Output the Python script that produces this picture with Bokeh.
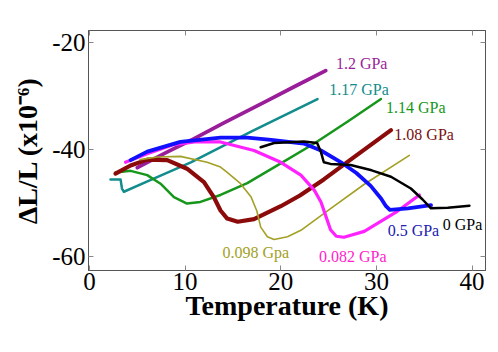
from bokeh.plotting import figure
from bokeh.models import Range1d, LinearAxis, FixedTicker
from bokeh.embed import file_html
from bokeh.resources import INLINE
from bokeh.core.properties import value

# ---- data ----
t_12 = [5.0, 8.1, 10.6, 14.0, 18.6, 21.5, 24.7]
y_12 = [-43.4, -40.5, -38.3, -35.1, -30.9, -28.2, -25.3]

t_117 = [2.2, 3.25, 3.4, 3.6, 6.0, 10.6, 17.0, 23.84]
y_117 = [-45.6, -45.6, -47.3, -47.9, -46.0, -42.4, -36.6, -30.6]

t_114 = [2.72, 4.3, 6.04, 7.43, 8.83, 10.2, 11.6, 13.7, 16.5, 20.0, 23.5, 27.0, 30.47]
y_114 = [-44.3, -44.0, -44.8, -46.4, -48.9, -50.1, -49.8, -48.5, -46.3, -42.6, -38.9, -34.8, -30.6]

t_108 = [2.72, 4.3, 6.04, 8.13, 10.2, 11.97, 13.0, 13.7, 14.4, 15.5, 17.2, 20.0, 22.0, 24.5, 27.3, 31.52]
y_108 = [-44.5, -43.0, -41.9, -42.0, -43.6, -46.1, -48.9, -51.4, -52.9, -53.5, -53.0, -50.6, -48.6, -45.6, -41.9, -36.4]

t_098 = [5.3, 7.1, 9.5, 12.3, 13.7, 14.4, 15.8, 16.9, 17.5, 17.9, 18.6, 19.3, 20.7, 22.1, 25.24, 28.73, 33.44]
y_098 = [-41.9, -41.4, -41.3, -42.4, -43.3, -44.3, -46.4, -48.9, -51.5, -54.5, -56.3, -56.8, -56.3, -55.1, -51.0, -46.5, -41.1]

t_082 = [3.77, 6.04, 8.83, 11.0, 13.7, 17.2, 20.0, 22.1, 23.5, 24.2, 24.7, 25.2, 25.8, 26.6, 28.73, 32.22, 34.49]
y_082 = [-42.4, -40.8, -39.1, -38.6, -38.6, -40.2, -42.4, -44.8, -47.6, -49.8, -52.4, -55.0, -56.2, -56.4, -55.3, -51.5, -48.5]

t_05 = [4.3, 6.04, 9.5, 13.7, 16.5, 19.0, 22.4, 24.2, 26.3, 27.9, 29.4, 30.5, 31.0, 31.4, 33.3, 35.71]
y_05 = [-42.0, -40.4, -38.6, -37.8, -37.8, -38.2, -38.9, -40.2, -42.4, -44.4, -46.8, -49.2, -50.6, -51.3, -51.0, -50.4]

t_0 = [17.9, 19.3, 22.4, 23.8, 24.2, 24.5, 25.2, 27.3, 29.5, 31.52, 33.6, 34.8, 35.7, 37.45, 39.72]
y_0 = [-39.6, -38.8, -38.5, -38.8, -40.5, -42.4, -42.7, -42.9, -43.9, -45.1, -47.3, -49.3, -51.0, -50.9, -50.5]

labels = ["1.2 GPa", "1.17 GPa", "1.14 GPa", "1.08 GPa", "0.098 Gpa", "0.082 GPa", "0.5 GPa", "0 GPa"]
label_t = [25.76, 25.06, 31.0, 31.87, 13.9, 24.0, 31.17, 36.93]
label_y = [-24.0, -28.8, -32.1, -37.2, -59.2, -59.9, -55.2, -54.0]

x_ticks = [0, 10, 20, 30, 40]
y_ticks = [-60, -40, -20]

series = [
    (t_12, y_12, "#9a1e9a", 3.8),
    (t_117, y_117, "#128c8c", 2.5),
    (t_114, y_114, "#16961a", 2.5),
    (t_108, y_108, "#8b0a0a", 4.2),
    (t_098, y_098, "#a3a025", 1.6),
    (t_082, y_082, "#ff22ff", 3.2),
    (t_05, y_05, "#1010ff", 3.8),
    (t_0, y_0, "#000000", 2.5),
]
label_colors = ["#9a1e9a", "#128c8c", "#16961a", "#7a1010", "#a3a025", "#ff22cc", "#2020b0", "#000000"]

SERIF = "'Liberation Serif', 'Times New Roman', serif"

p = figure(width=490, height=344, output_backend="svg", toolbar_location=None,
           x_range=Range1d(-0.1, 41.4), y_range=Range1d(-62.6, -17.8),
           min_border_left=88, min_border_right=5, min_border_top=30, min_border_bottom=74)
p.background_fill_color = "white"
p.border_fill_color = "white"
p.outline_line_color = "#555555"
p.outline_line_width = 1
p.grid.visible = False

for t, y, c, w in series:
    p.line(t, y, line_color=c, line_width=w, line_join="round", line_cap="round")

p.text(x=label_t, y=label_y, text=labels, text_color=label_colors,
       text_font=value("Liberation Serif"), text_font_size="16px", text_baseline="middle", text_align="left")

bottom = p.below[0]
left = p.left[0]
top = LinearAxis(ticker=FixedTicker(ticks=x_ticks))
right = LinearAxis(ticker=FixedTicker(ticks=y_ticks))
p.add_layout(top, "above")
p.add_layout(right, "right")

for ax in (bottom, left, top, right):
    ax.major_tick_in = 5
    ax.major_tick_out = 0
    ax.minor_tick_line_color = None
    ax.axis_line_color = "#555555"
    ax.major_tick_line_color = "#888888"
    ax.major_label_text_font = SERIF
    ax.major_label_text_font_size = "25px"
    ax.major_label_text_color = "black"
    ax.axis_label_text_font = "Liberation Serif"
    ax.axis_label_text_font_style = "bold"
    ax.axis_label_text_font_size = "28px"
    ax.axis_label_text_color = "black"

for ax in (top, right):
    ax.major_label_text_font_size = "0px"
    ax.major_label_standoff = 0
    ax.major_label_text_color = None

bottom.ticker = FixedTicker(ticks=x_ticks)
left.ticker = FixedTicker(ticks=y_ticks)
left.major_label_overrides = {-60: "-60", -40: "-40", -20: "-20"}
bottom.axis_label = "Temperature (K)"
left.axis_label = "ΔL/L (x10⁻⁶)"
bottom.major_label_standoff = 2
left.major_label_standoff = 3
bottom.axis_label_standoff = -3
left.axis_label_standoff = 6

out = open("out.html", "w")
out.write(file_html(p, INLINE))
out.close()
